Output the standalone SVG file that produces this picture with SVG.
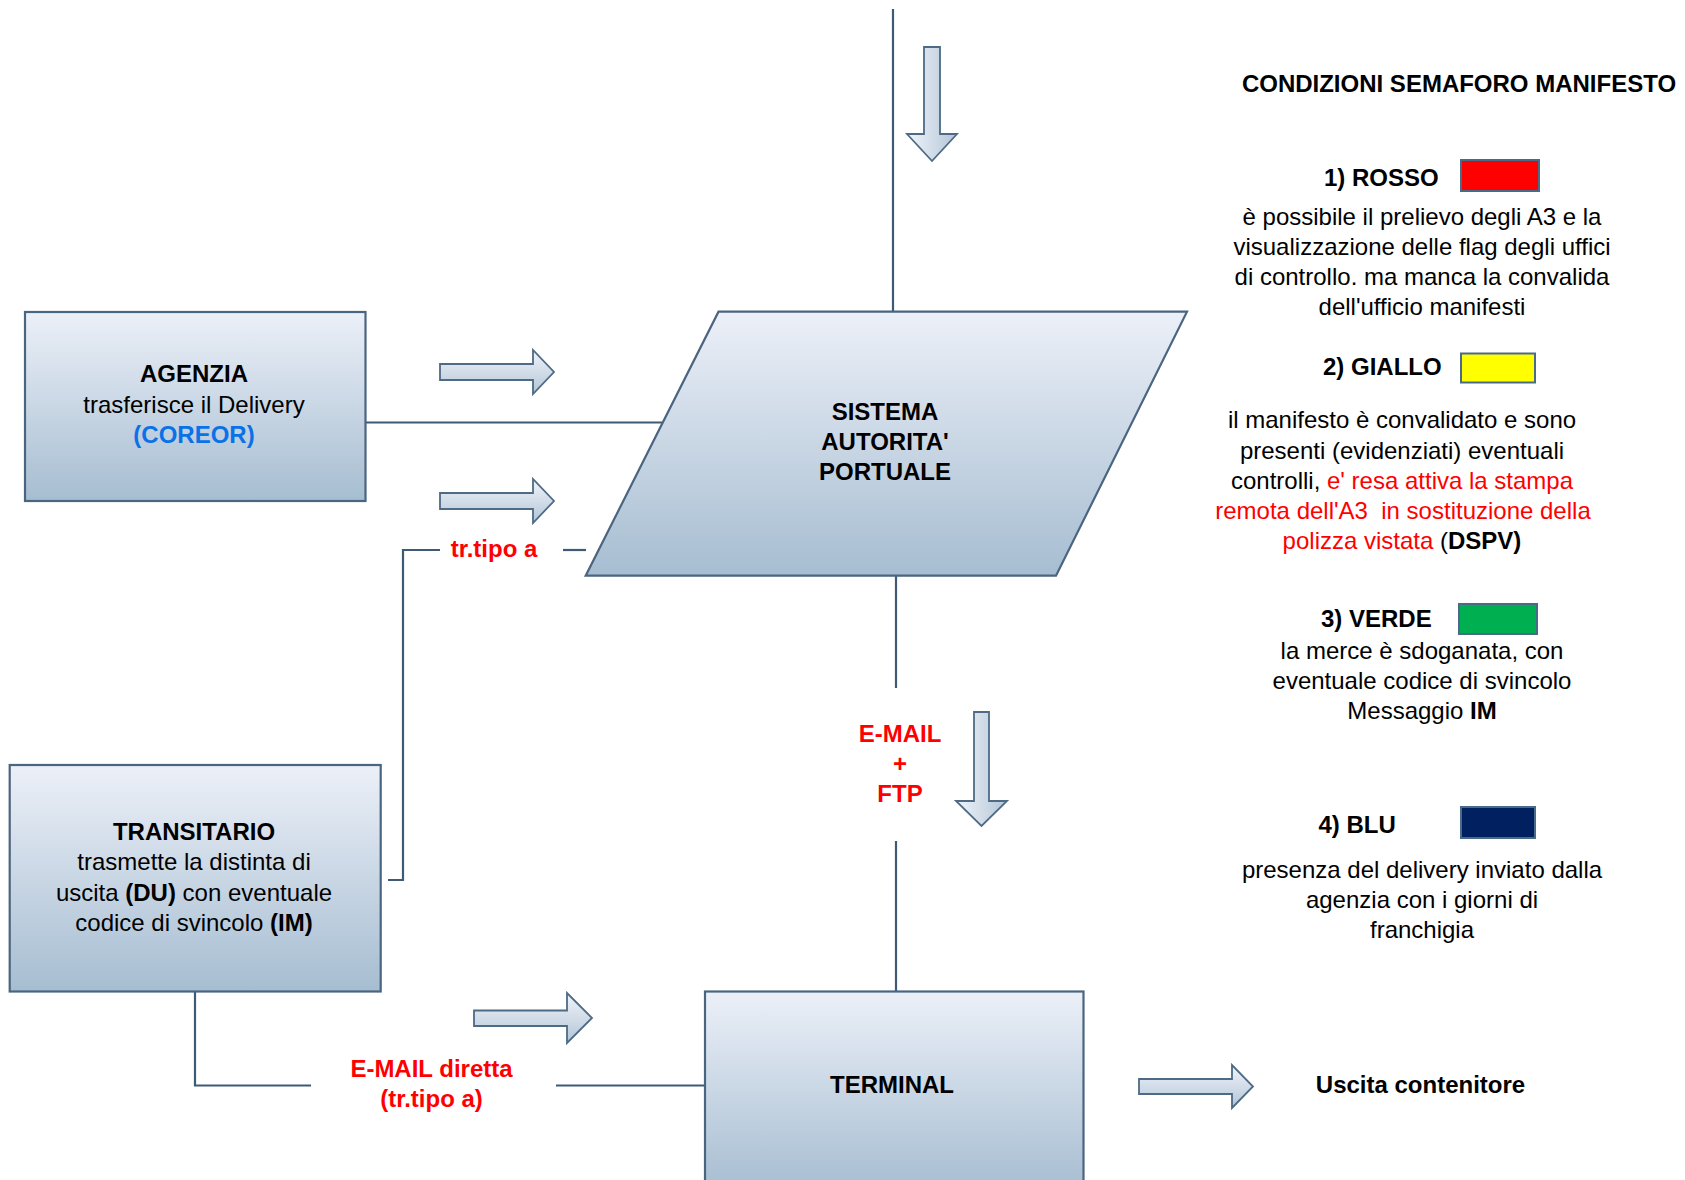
<svg xmlns="http://www.w3.org/2000/svg" width="1685" height="1180" viewBox="0 0 1685 1180">
<defs>
<linearGradient id="boxg" x1="0" y1="0" x2="0" y2="1">
<stop offset="0" stop-color="#ECF0F8"/>
<stop offset="1" stop-color="#A6BDD1"/>
</linearGradient>
<linearGradient id="arrh" x1="0" y1="0" x2="0" y2="1">
<stop offset="0" stop-color="#F0F4FA"/>
<stop offset="1" stop-color="#B3C5D7"/>
</linearGradient>
<linearGradient id="arrv" x1="0" y1="0" x2="1" y2="0">
<stop offset="0" stop-color="#F0F4FA"/>
<stop offset="1" stop-color="#B3C5D7"/>
</linearGradient>
<style>
.box{fill:url(#boxg);stroke:#4A6580;stroke-width:2.2}
.conn{fill:none;stroke:#3F5A75;stroke-width:2.2}
.ah{fill:url(#arrh);stroke:#4E6A85;stroke-width:1.8}
.av{fill:url(#arrv);stroke:#4E6A85;stroke-width:1.8}
.sw{stroke:#4A6A8A;stroke-width:2}
text{font-family:"Liberation Sans",Arial,sans-serif;font-size:24px;fill:#000}
.c{text-anchor:middle}
.b{font-weight:bold}
.r{fill:#FF0000}
.bl{fill:#0A72E6}
</style>
</defs>
<rect width="1685" height="1180" fill="#FFFFFF"/>

<g id="connectors">
<path class="conn" d="M893,9 V312"/>
<path class="conn" d="M366,422.5 H662"/>
<path class="conn" d="M388,880 H403 V550 H440"/>
<path class="conn" d="M563,550 H586"/>
<path class="conn" d="M896,576 V688"/>
<path class="conn" d="M896,841 V991"/>
<path class="conn" d="M195,991 V1085.5 H311"/>
<path class="conn" d="M556,1085.5 H705"/>
</g>

<g id="arrows">
<path class="av" d="M924,47 H940 V134 H957 L932,161 L907,134 H924 Z"/>
<path class="ah" d="M440,364 H533 V350 L554,372 L533,394 V380 H440 Z"/>
<path class="ah" d="M440,493 H533 V479 L554,501 L533,523 V509 H440 Z"/>
<path class="av" d="M974,712 H989 V801 H1007 L981.5,826 L956,801 H974 Z"/>
<path class="ah" d="M474,1010.5 H567 V993 L592,1018 L567,1043 V1026 H474 Z"/>
<path class="ah" d="M1139,1079 H1232 V1065 L1253,1086.5 L1232,1108 V1094 H1139 Z"/>
</g>

<g id="agenzia">
<rect class="box" x="25" y="312" width="340.5" height="189"/>
<text class="c b" x="194" y="382">AGENZIA</text>
<text class="c" x="194" y="412.5">trasferisce il Delivery</text>
<text class="c b bl" x="194" y="443">(COREOR)</text>
</g>

<g id="sistema">
<path class="box" d="M718.5,311.7 H1187 L1056,575.7 H585.7 Z"/>
<text class="c b" x="885" y="419.5">SISTEMA</text>
<text class="c b" x="885" y="450">AUTORITA'</text>
<text class="c b" x="885" y="480">PORTUALE</text>
</g>

<g id="transitario">
<rect class="box" x="9.7" y="765" width="371" height="226.5"/>
<text class="c b" x="194" y="840">TRANSITARIO</text>
<text class="c" x="194" y="870">trasmette la distinta di</text>
<text class="c" x="194" y="901">uscita <tspan class="b">(DU)</tspan> con eventuale</text>
<text class="c" x="194" y="931">codice di svincolo <tspan class="b">(IM)</tspan></text>
</g>

<g id="terminal">
<rect class="box" x="705" y="991.5" width="378.5" height="200"/>
<text class="c b" x="892" y="1093">TERMINAL</text>
</g>

<g id="labels">
<text class="c b r" x="494" y="556.5">tr.tipo a</text>
<text class="c b r" x="900" y="742">E-MAIL</text>
<text class="c b r" x="900" y="772">+</text>
<text class="c b r" x="900" y="802">FTP</text>
<text class="c b r" x="431.5" y="1077">E-MAIL diretta</text>
<text class="c b r" x="431.5" y="1107">(tr.tipo a)</text>
<text class="c b" x="1420.5" y="1093">Uscita contenitore</text>
</g>

<g id="legend">
<text class="c b" x="1459" y="92">CONDIZIONI SEMAFORO MANIFESTO</text>

<text class="b" x="1324" y="186">1) ROSSO</text>
<rect class="sw" x="1461" y="160" width="78" height="31" fill="#FF0000"/>
<text class="c" x="1422" y="225">è possibile il prelievo degli A3 e la</text>
<text class="c" x="1422" y="255">visualizzazione delle flag degli uffici</text>
<text class="c" x="1422" y="285">di controllo. ma manca la convalida</text>
<text class="c" x="1422" y="315">dell'ufficio manifesti</text>

<text class="b" x="1323" y="375">2) GIALLO</text>
<rect class="sw" x="1461" y="353.5" width="74" height="29" fill="#FFFF00"/>
<text class="c" x="1402" y="428">il manifesto è convalidato e sono</text>
<text class="c" x="1402" y="459">presenti (evidenziati) eventuali</text>
<text class="c" x="1402" y="489">controlli, <tspan class="r">e' resa attiva la stampa</tspan></text>
<text class="c r" x="1403" y="519" xml:space="preserve">remota dell'A3  in sostituzione della</text>
<text class="c" x="1402" y="549"><tspan class="r">polizza vistata </tspan>(<tspan class="b">DSPV)</tspan></text>

<text class="b" x="1321" y="626.5">3) VERDE</text>
<rect class="sw" x="1459" y="604" width="78" height="30" fill="#00B050"/>
<text class="c" x="1422" y="659">la merce è sdoganata, con</text>
<text class="c" x="1422" y="689">eventuale codice di svincolo</text>
<text class="c" x="1422" y="719">Messaggio <tspan class="b">IM</tspan></text>

<text class="b" x="1318.5" y="833">4) BLU</text>
<rect class="sw" x="1461" y="807" width="74" height="31" fill="#002060"/>
<text class="c" x="1422" y="878">presenza del delivery inviato dalla</text>
<text class="c" x="1422" y="908">agenzia con i giorni di</text>
<text class="c" x="1422" y="938">franchigia</text>
</g>
</svg>
